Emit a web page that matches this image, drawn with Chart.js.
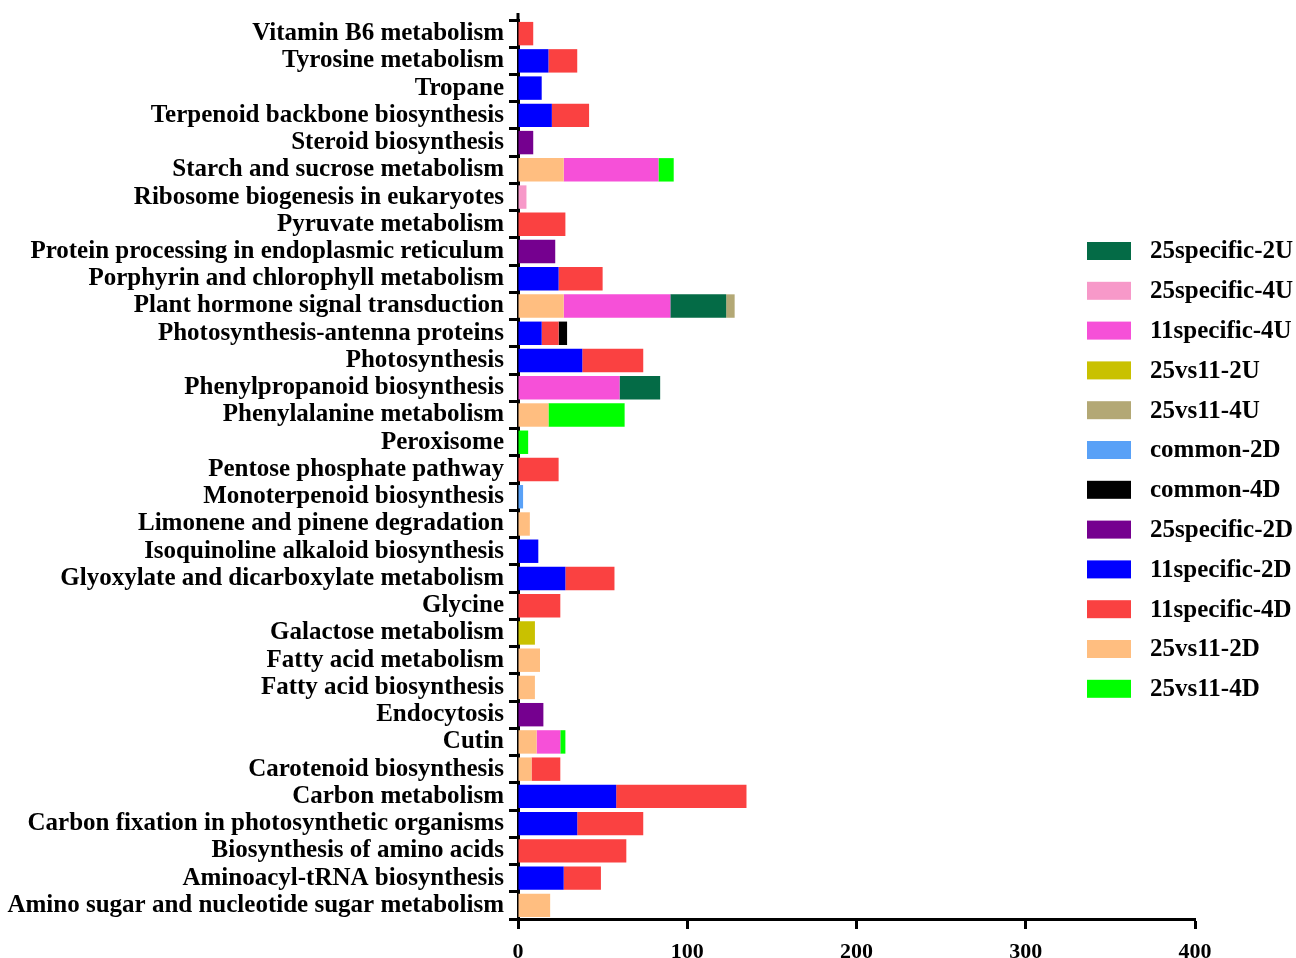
<!DOCTYPE html>
<html>
<head>
<meta charset="utf-8">
<script src="https://cdn.jsdelivr.net/npm/chart.js@4.4.1/dist/chart.umd.min.js"></script>
<style>
  html, body { margin: 0; padding: 0; background: #fff; }
  canvas { display: block; }
</style>
</head>
<body>
<canvas id="myChart" width="1296" height="958"></canvas>
<script>
// pathways, top to bottom as shown
const pathways = [
  "Vitamin B6 metabolism",
  "Tyrosine metabolism",
  "Tropane",
  "Terpenoid backbone biosynthesis",
  "Steroid biosynthesis",
  "Starch and sucrose metabolism",
  "Ribosome biogenesis in eukaryotes",
  "Pyruvate metabolism",
  "Protein processing in endoplasmic reticulum",
  "Porphyrin and chlorophyll metabolism",
  "Plant hormone signal transduction",
  "Photosynthesis-antenna proteins",
  "Photosynthesis",
  "Phenylpropanoid biosynthesis",
  "Phenylalanine metabolism",
  "Peroxisome",
  "Pentose phosphate pathway",
  "Monoterpenoid biosynthesis",
  "Limonene and pinene degradation",
  "Isoquinoline alkaloid biosynthesis",
  "Glyoxylate and dicarboxylate metabolism",
  "Glycine",
  "Galactose metabolism",
  "Fatty acid metabolism",
  "Fatty acid biosynthesis",
  "Endocytosis",
  "Cutin",
  "Carotenoid biosynthesis",
  "Carbon metabolism",
  "Carbon fixation in photosynthetic organisms",
  "Biosynthesis of amino acids",
  "Aminoacyl-tRNA biosynthesis",
  "Amino sugar and nucleotide sugar metabolism",
];

// gene counts per group (same order as pathways)
//                   0  1  2  3  4  5  6  7  8  9 10 11 12 13 14 15 16 17 18 19 20 21 22 23 24 25 26 27 28 29 30 31 32
const vs11_2D    = [ 0, 0, 0, 0, 0,27, 0, 0, 0, 0,27, 0, 0, 0,18, 0, 0, 0, 7, 0, 0, 0, 0,13,10, 0,11, 8, 0, 0, 0, 0,19];
const sp11_2D    = [ 0,18,14,20, 0, 0, 0, 0, 0,24, 0,14,38, 0, 0, 0, 0, 0, 0,12,28, 0, 0, 0, 0, 0, 0, 0,58,35, 0,27, 0];
const sp25_2D    = [ 0, 0, 0, 0, 9, 0, 0, 0,22, 0, 0, 0, 0, 0, 0, 0, 0, 0, 0, 0, 0, 0, 0, 0, 0,15, 0, 0, 0, 0, 0, 0, 0];
const common_2D  = [ 0, 0, 0, 0, 0, 0, 0, 0, 0, 0, 0, 0, 0, 0, 0, 0, 0, 3, 0, 0, 0, 0, 0, 0, 0, 0, 0, 0, 0, 0, 0, 0, 0];
const sp11_4D    = [ 9,17, 0,22, 0, 0, 0,28, 0,26, 0,10,36, 0, 0, 0,24, 0, 0, 0,29,25, 0, 0, 0, 0, 0,17,77,39,64,22, 0];
const common_4D  = [ 0, 0, 0, 0, 0, 0, 0, 0, 0, 0, 0, 5, 0, 0, 0, 0, 0, 0, 0, 0, 0, 0, 0, 0, 0, 0, 0, 0, 0, 0, 0, 0, 0];
const sp11_4U    = [ 0, 0, 0, 0, 0,56, 0, 0, 0, 0,63, 0, 0,60, 0, 0, 0, 0, 0, 0, 0, 0, 0, 0, 0, 0,14, 0, 0, 0, 0, 0, 0];
const sp25_4U    = [ 0, 0, 0, 0, 0, 0, 5, 0, 0, 0, 0, 0, 0, 0, 0, 0, 0, 0, 0, 0, 0, 0, 0, 0, 0, 0, 0, 0, 0, 0, 0, 0, 0];
const sp25_2U    = [ 0, 0, 0, 0, 0, 0, 0, 0, 0, 0,33, 0, 0,24, 0, 0, 0, 0, 0, 0, 0, 0, 0, 0, 0, 0, 0, 0, 0, 0, 0, 0, 0];
const vs11_4U    = [ 0, 0, 0, 0, 0, 0, 0, 0, 0, 0, 5, 0, 0, 0, 0, 0, 0, 0, 0, 0, 0, 0, 0, 0, 0, 0, 0, 0, 0, 0, 0, 0, 0];
const vs11_2U    = [ 0, 0, 0, 0, 0, 0, 0, 0, 0, 0, 0, 0, 0, 0, 0, 0, 0, 0, 0, 0, 0, 0,10, 0, 0, 0, 0, 0, 0, 0, 0, 0, 0];
const vs11_4D    = [ 0, 0, 0, 0, 0, 9, 0, 0, 0, 0, 0, 0, 0, 0,45, 6, 0, 0, 0, 0, 0, 0, 0, 0, 0, 0, 3, 0, 0, 0, 0, 0, 0];

const xTicks = [0, 100, 200, 300, 400];

// legend order as in the figure
const legendOrder = [
  "25specific-2U", "25specific-4U", "11specific-4U", "25vs11-2U", "25vs11-4U",
  "common-2D", "common-4D", "25specific-2D", "11specific-2D", "11specific-4D",
  "25vs11-2D", "25vs11-4D",
];

const serif = '"Liberation Serif", "Times New Roman", serif';

// stacking order, left to right
const datasets = [
  { label: "25vs11-2D", data: vs11_2D, backgroundColor: "#FFBE80" },
  { label: "11specific-2D", data: sp11_2D, backgroundColor: "#0000FF" },
  { label: "25specific-2D", data: sp25_2D, backgroundColor: "#75008F" },
  { label: "common-2D", data: common_2D, backgroundColor: "#59A1F7" },
  { label: "11specific-4D", data: sp11_4D, backgroundColor: "#FA4141" },
  { label: "common-4D", data: common_4D, backgroundColor: "#000000" },
  { label: "11specific-4U", data: sp11_4U, backgroundColor: "#F650D8" },
  { label: "25specific-4U", data: sp25_4U, backgroundColor: "#F799C9" },
  { label: "25specific-2U", data: sp25_2U, backgroundColor: "#046B46" },
  { label: "25vs11-4U", data: vs11_4U, backgroundColor: "#B3A875" },
  { label: "25vs11-2U", data: vs11_2U, backgroundColor: "#C9C100" },
  { label: "25vs11-4D", data: vs11_4D, backgroundColor: "#00FF00" },
];

// legend on the right + axis line stub above the first row
const sideLegend = {
  id: "sideLegend",
  afterDraw(chart) {
    const ctx = chart.ctx;
    const area = chart.chartArea;
    ctx.save();
    ctx.strokeStyle = "#000";
    ctx.lineWidth = 3;
    ctx.beginPath();
    ctx.moveTo(area.left, 13);
    ctx.lineTo(area.left, area.top + 1);
    ctx.stroke();

    ctx.font = "bold 25px " + serif;
    ctx.textBaseline = "middle";
    ctx.textAlign = "left";
    legendOrder.forEach((name, i) => {
      const ds = chart.data.datasets.find((d) => d.label === name);
      const y = 251 + i * 39.8;
      ctx.fillStyle = ds.backgroundColor;
      ctx.fillRect(1087, y - 9, 44, 18);
      ctx.fillStyle = "#000";
      ctx.fillText(name, 1150, y + 1);
    });
    ctx.restore();
  },
};

new Chart(document.getElementById("myChart"), {
  type: "bar",
  data: { labels: pathways, datasets: datasets },
  options: {
    indexAxis: "y",
    responsive: false,
    animation: false,
    layout: { padding: { left: 0, top: 20, right: 101, bottom: 0 } },
    datasets: { bar: { categoryPercentage: 1, barPercentage: 0.86, borderWidth: 0 } },
    plugins: { legend: { display: false }, tooltip: { enabled: false } },
    scales: {
      x: {
        stacked: true,
        min: 0,
        max: 400,
        afterBuildTicks: (s) => { s.ticks = xTicks.map((v) => ({ value: v })); },
        afterFit: (s) => { s.height = 39; },
        border: { display: true, color: "#000", width: 3 },
        grid: { drawOnChartArea: false, drawTicks: true, tickLength: 10, tickWidth: 3, tickColor: "#000" },
        ticks: { color: "#000", padding: 10, font: { family: serif, size: 22, weight: "bold" } },
      },
      y: {
        stacked: true,
        afterFit: (s) => { s.width = 518; },
        border: { display: true, color: "#000", width: 3 },
        grid: { drawOnChartArea: false, drawTicks: true, tickLength: 9, tickWidth: 3, tickColor: "#000" },
        ticks: { color: "#000", padding: 5, autoSkip: false, font: { family: serif, size: 25, weight: "bold" } },
      },
    },
  },
  plugins: [sideLegend],
});
</script>
</body>
</html>
